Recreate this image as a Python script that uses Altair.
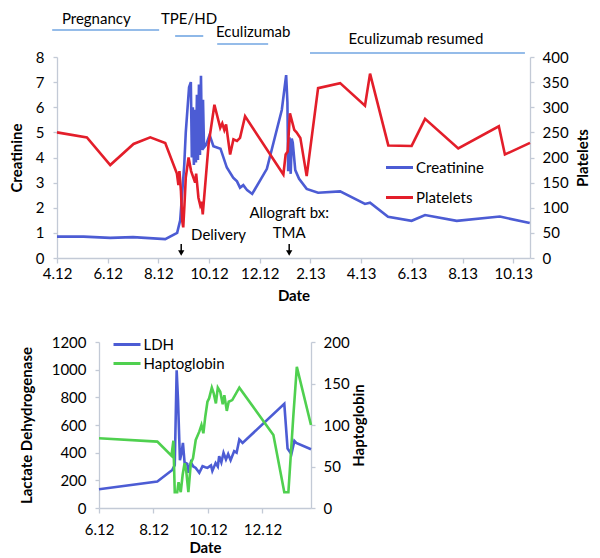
import altair as alt
import pandas as pd

# ---------------- data (x = months since April 2012; 0 -> "4.12") ----------------
creat_month = [0.0, 1.05, 2.1, 3.0, 4.27, 4.74, 4.86, 5.02, 5.08, 5.21,
               5.28, 5.32, 5.36, 5.40, 5.44, 5.48, 5.52, 5.56, 5.60, 5.64,
               5.68, 5.72, 5.76, 5.80, 5.88, 6.02, 6.17, 6.45, 6.70, 6.95,
               7.10, 7.22, 7.35, 7.50, 7.70, 8.28, 8.87, 9.04, 9.09, 9.12,
               9.17, 9.22, 9.26, 9.30, 9.40, 9.55, 9.85, 10.30, 11.17, 12.15,
               12.35, 13.06, 13.99, 14.52, 15.77, 17.47, 18.65]
creat_value = [0.85, 0.85, 0.80, 0.83, 0.75, 1.00, 1.50, 3.70, 5.00, 6.80,
               7.00, 4.00, 6.00, 3.70, 5.90, 3.80, 6.50, 3.90, 6.90, 4.10,
               7.25, 4.30, 6.30, 4.40, 4.50, 4.90, 4.45, 4.35, 3.60, 3.20,
               3.05, 2.80, 2.90, 2.70, 2.55, 3.55, 5.90, 7.28, 6.20, 3.45,
               4.80, 3.35, 4.75, 4.60, 3.50, 3.15, 2.75, 2.60, 2.65, 2.15,
               2.20, 1.64, 1.48, 1.71, 1.48, 1.65, 1.39]

plt_month = [0.0, 1.18, 2.1, 3.02, 3.68, 4.27, 4.73, 4.79, 4.83, 4.89,
             4.94, 4.98, 5.03, 5.08, 5.19, 5.29, 5.45, 5.49, 5.58, 5.65,
             5.70, 5.75, 5.98, 6.21, 6.44, 6.52, 6.60, 6.67, 6.83, 6.96,
             7.10, 7.22, 7.42, 8.93, 9.02, 9.10, 9.19, 9.36, 9.45, 9.60,
             9.85, 10.30, 11.17, 12.15, 12.35, 13.07, 13.99, 14.52, 15.83, 17.43,
             17.67, 18.66]
plt_value = [250, 240, 185, 227, 240, 229, 168, 145, 173, 133,
             74, 61, 107, 160, 200, 173, 150, 168, 120, 105,
             112, 87, 226, 305, 259, 268, 255, 266, 206, 236,
             233, 239, 282, 166, 206, 212, 288, 255, 250, 239,
             163, 338, 348, 303, 367, 224, 223, 277, 218, 262,
             206, 229]

ldh_month = [2.0, 4.14, 4.69, 4.78, 4.85, 4.90, 4.97, 5.03, 5.08, 5.14,
             5.24, 5.28, 5.37, 5.46, 5.55, 5.68, 5.80, 5.90, 5.98, 6.11,
             6.16, 6.28, 6.36, 6.41, 6.49, 6.57, 6.66, 6.74, 6.83, 6.96,
             7.05, 7.15, 7.27, 8.80, 8.92, 9.06, 9.17, 9.24, 9.78]
ldh_value = [135, 191, 275, 310, 995, 780, 345, 400, 470, 330,
             320, 255, 330, 300, 290, 255, 303, 295, 291, 308,
             268, 325, 300, 375, 330, 399, 351, 390, 345, 411,
             400, 495, 470, 753, 430, 390, 485, 470, 425]

hapto_month = [2.0, 4.14, 4.66, 4.73, 4.78, 4.87, 4.92, 5.00, 5.07, 5.14,
               5.20, 5.28, 5.37, 5.45, 5.55, 5.68, 5.76, 5.83, 5.90, 5.98,
               6.04, 6.14, 6.21, 6.29, 6.36, 6.45, 6.54, 6.60, 6.69, 6.76,
               6.89, 7.15, 8.40, 8.80, 8.95, 9.13, 9.26, 9.78]
hapto_value = [84, 80, 63, 81, 19, 19, 31, 19, 40, 54,
               45, 19, 54, 60, 82, 92, 100, 90, 110, 128,
               132, 145, 138, 126, 145, 140, 125, 136, 117, 128,
               130, 145, 88, 19, 19, 110, 170, 100]

period_labels = ["Pregnancy", "TPE/HD", "Eculizumab", "Eculizumab resumed"]
period_start = [-0.19, 4.66, 6.32, 9.98]
period_end = [4.03, 5.77, 8.33, 18.46]
period_label_at = [1.55, 5.21, 7.74, 14.16]

event_month = [4.9, 9.16]
delivery_label_at = 5.29
allograft_label = ["Allograft bx:", "TMA"]

top_ticks = list(range(0, 19, 2))
bottom_ticks = [2, 4, 6, 8]

assert len(creat_month) == len(creat_value)
assert len(plt_month) == len(plt_value)
assert len(ldh_month) == len(ldh_value)
assert len(hapto_month) == len(hapto_value)

# ---------------- styles ----------------
FONT = "Lato"
BLUE = "#4c5cd4"
RED = "#e31e2a"
GREEN = "#4fd04f"
ANN = "#72a6e2"
AXC = "#c3cad6"
LABEL = "((datum.value + 3) % 12 + 1) + '.' + (12 + floor((datum.value + 3) / 12))"

TOP_W, TOP_H = 473, 201
BOT_W, BOT_H = 212, 166
SPACER_W = 1
BOT_SHIFT = -41


def x_enc(domain, ticks, label_pad, title_pad):
    return alt.X("m:Q",
                 scale=alt.Scale(domain=domain, nice=False, zero=False),
                 axis=alt.Axis(values=ticks, labelExpr=LABEL, title="Date",
                               tickSize=5, labelPadding=label_pad, titlePadding=title_pad,
                               labelFlush=False))


def legend(x, y, rowpad):
    return alt.Legend(title=None, orient="none", legendX=x, legendY=y,
                      symbolType="M-1.5,0L1.5,0", symbolSize=324,
                      symbolStrokeWidth=3, labelFontSize=15, labelFont=FONT,
                      rowPadding=rowpad, labelOffset=6, padding=0)


# ---------------- top panel ----------------
xt = x_enc([0, 18.66], top_ticks, 3, 7)
top_color = alt.Color("series:N",
                      scale=alt.Scale(domain=["Creatinine", "Platelets"], range=[BLUE, RED]),
                      legend=legend(332, 100, 11))

creat_df = pd.DataFrame({"m": creat_month, "v": creat_value, "series": "Creatinine"})
plt_df = pd.DataFrame({"m": plt_month, "v": plt_value, "series": "Platelets"})

creat_line = alt.Chart(creat_df).mark_line(strokeWidth=2.6).encode(
    x=xt,
    y=alt.Y("v:Q", scale=alt.Scale(domain=[0, 8], nice=False),
            axis=alt.Axis(orient="left", values=list(range(0, 9)), title="Creatinine",
                          format="d", tickSize=4, labelPadding=9, titlePadding=11)),
    color=top_color)

plt_line = alt.Chart(plt_df).mark_line(strokeWidth=2.6).encode(
    x=xt,
    y=alt.Y("v:Q", scale=alt.Scale(domain=[0, 400], nice=False),
            axis=alt.Axis(orient="right", values=list(range(0, 401, 50)), title="Platelets",
                          format="d", tickSize=4, labelPadding=8, titlePadding=7,
                          titleAngle=270, titleBaseline="top")),
    color=top_color)

line_y = [-27, -21, -13, -4]
text_y = [-38, -38, -25, -18]
ann_layers = []
for i in range(len(period_labels)):
    d = pd.DataFrame({"m": [period_start[i]], "m2": [period_end[i]],
                      "lm": [period_label_at[i]], "label": [period_labels[i]]})
    ann_layers.append(alt.Chart(d).mark_rule(color=ANN, strokeWidth=1.6).encode(
        x=xt, x2="m2:Q", y=alt.value(line_y[i])))
    ann_layers.append(alt.Chart(d).mark_text(fontSize=15, font=FONT, color="black",
                                             align="center", baseline="middle").encode(
        x=alt.X("lm:Q", scale=alt.Scale(domain=[0, 18.66], nice=False, zero=False)),
        y=alt.value(text_y[i]), text="label:N"))

ev_df = pd.DataFrame({"m": event_month})
arrow_stem = alt.Chart(ev_df).mark_rule(color="black", strokeWidth=1.5).encode(
    x=xt, y=alt.value(187), y2=alt.value(195))
arrow_head = alt.Chart(ev_df).mark_point(shape="triangle-down", filled=True, color="black",
                                         size=40, opacity=1).encode(
    x=xt, y=alt.value(196))
deliv = alt.Chart(pd.DataFrame({"m": [delivery_label_at], "t": ["Delivery"]})).mark_text(
    fontSize=15, font=FONT, align="left", baseline="middle", color="black").encode(
    x=xt, y=alt.value(178), text="t:N")
allo = alt.Chart(pd.DataFrame({"m": [event_month[1]] * 2, "t": allograft_label,
                               "k": [0, 1]})).mark_text(
    fontSize=15, font=FONT, align="center", baseline="middle", color="black").encode(
    x=xt, y=alt.Y("k:Q", scale=alt.Scale(domain=[0, 1], range=[156, 176]), axis=None),
    text="t:N")

top = alt.layer(creat_line, plt_line, *ann_layers, arrow_stem, arrow_head, deliv, allo
                ).resolve_scale(y="independent").properties(width=TOP_W, height=TOP_H)

# ---------------- bottom panel ----------------
xb = x_enc([2, 9.78], bottom_ticks, 9, 3)
bot_color = alt.Color("series:N",
                      scale=alt.Scale(domain=["LDH", "Haptoglobin"], range=[BLUE, GREEN]),
                      legend=legend(17.5, -8, 0))
ldh_df = pd.DataFrame({"m": ldh_month, "v": ldh_value, "series": "LDH"})
hap_df = pd.DataFrame({"m": hapto_month, "v": hapto_value, "series": "Haptoglobin"})

ldh_line = alt.Chart(ldh_df).mark_line(strokeWidth=2.6).encode(
    x=xb,
    y=alt.Y("v:Q", scale=alt.Scale(domain=[0, 1200], nice=False),
            axis=alt.Axis(orient="left", values=list(range(0, 1201, 200)), format="d",
                          title="Lactate Dehydrogenase", tickSize=4, labelPadding=9,
                          titlePadding=17)),
    color=bot_color)
hap_line = alt.Chart(hap_df).mark_line(strokeWidth=2.6).encode(
    x=xb,
    y=alt.Y("v:Q", scale=alt.Scale(domain=[0, 200], nice=False),
            axis=alt.Axis(orient="right", values=list(range(0, 201, 50)), format="d",
                          title="Haptoglobin", tickSize=4, labelPadding=8,
                          titlePadding=2, titleAngle=270, titleBaseline="top")),
    color=bot_color)

bottom = alt.layer(ldh_line, hap_line).resolve_scale(y="independent").properties(
    width=BOT_W, height=BOT_H)

spacer = alt.Chart(pd.DataFrame({"a": [0]})).mark_rect(opacity=0).encode(
    x=alt.value(0), x2=alt.value(SPACER_W), y=alt.value(0), y2=alt.value(2)
).properties(width=SPACER_W, height=2)

chart = alt.vconcat(
    alt.hconcat(top, spacing=0),
    alt.hconcat(spacer, bottom, spacing=BOT_SHIFT).resolve_scale(color="independent"),
    spacing=29,
).resolve_scale(color="independent").properties(
    padding={"left": 0, "top": 3, "right": 0, "bottom": 0}
).configure_view(stroke="transparent").configure_axis(
    domainColor=AXC, tickColor=AXC, domainWidth=1.3, tickWidth=1.3,
    labelFont=FONT, titleFont=FONT, labelFontSize=15, titleFontSize=15,
    titleFontWeight="bold", labelColor="black", titleColor="black", grid=False
).configure_text(font=FONT)

chart.save("out.html", embed_options={"renderer": "svg", "actions": False})
